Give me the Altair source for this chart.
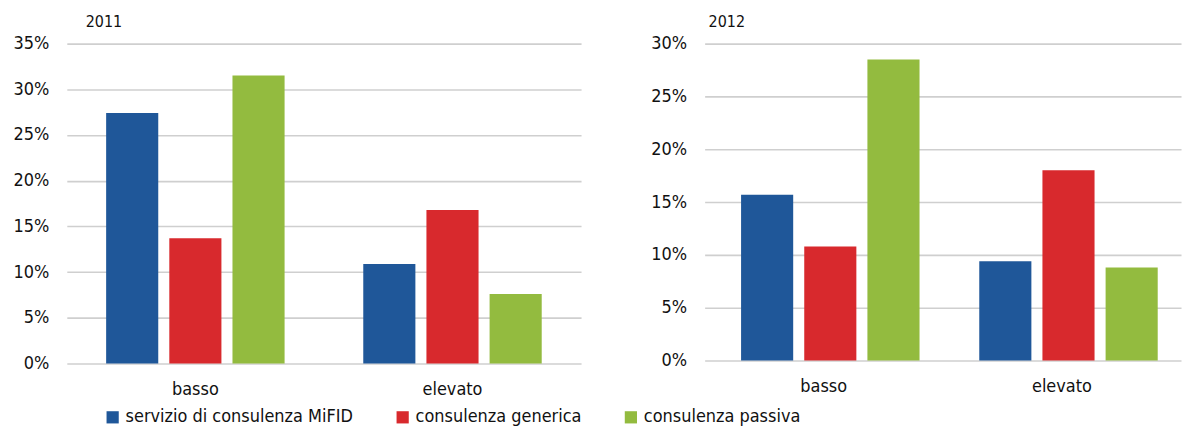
import altair as alt
import pandas as pd

categories = ["basso", "elevato"]
series = ["servizio di consulenza MiFID", "consulenza generica", "consulenza passiva"]
colors = ["#1F5799", "#D8292D", "#93BB3F"]

vals_2011 = {
    "servizio di consulenza MiFID": [0.274, 0.109],
    "consulenza generica": [0.137, 0.168],
    "consulenza passiva": [0.315, 0.076],
}
vals_2012 = {
    "servizio di consulenza MiFID": [0.157, 0.094],
    "consulenza generica": [0.108, 0.180],
    "consulenza passiva": [0.285, 0.088],
}

FONT = "Liberation Sans Narrow, DejaVu Sans Condensed, Liberation Sans, sans-serif"


def make_df(vals):
    rows = []
    for s in series:
        for c, v in zip(categories, vals[s]):
            rows.append({"cat": c, "serie": s, "val": v})
    return pd.DataFrame(rows)


def panel(vals, title, ymax, w, h, dx, offset):
    df = make_df(vals)
    ticks = [round(i * 0.05, 2) for i in range(int(round(ymax / 0.05)) + 1)]
    return alt.Chart(df).mark_bar().encode(
        x=alt.X("cat:N", sort=categories, title=None,
                scale=alt.Scale(paddingInner=0.306, paddingOuter=0.153),
                axis=alt.Axis(labelAngle=0, labelFontSize=18, labelPadding=17,
                              domain=False, ticks=False, labelColor="#111111",
                              labelFont=FONT)),
        xOffset=alt.XOffset("serie:N", sort=series,
                            scale=alt.Scale(paddingInner=0.175, paddingOuter=0)),
        y=alt.Y("val:Q", title=None,
                scale=alt.Scale(domain=[0, ymax], nice=False),
                axis=alt.Axis(values=ticks, format=".0%", labelFontSize=18,
                              labelPadding=18, domain=False, ticks=False,
                              gridColor="#CFCFCF", gridWidth=1.6,
                              labelColor="#111111", labelFont=FONT)),
        color=alt.Color("serie:N", sort=series,
                        scale=alt.Scale(domain=series, range=colors),
                        legend=alt.Legend(title=None, orient="none",
                                          legendX=37, legendY=366,
                                          direction="horizontal",
                                          symbolType="square", symbolSize=150,
                                          symbolStrokeWidth=0,
                                          labelFontSize=18, labelFont=FONT,
                                          labelColor="#111111", labelLimit=400,
                                          columnPadding=40)),
    ).properties(
        width=w, height=h,
        title=alt.TitleParams(title, anchor="start", frame="group", dx=dx,
                              fontSize=16, fontWeight="normal", font=FONT,
                              color="#111111", offset=offset),
    )


left = panel(vals_2011, "2011", 0.35, 516, 321, 19, 5)
right = panel(vals_2012, "2012", 0.30, 478, 318, 4, 5)

chart = alt.hconcat(left, right, spacing=70).configure_view(stroke=None)

chart.save("out.html", embed_options={"renderer": "svg", "actions": False})
